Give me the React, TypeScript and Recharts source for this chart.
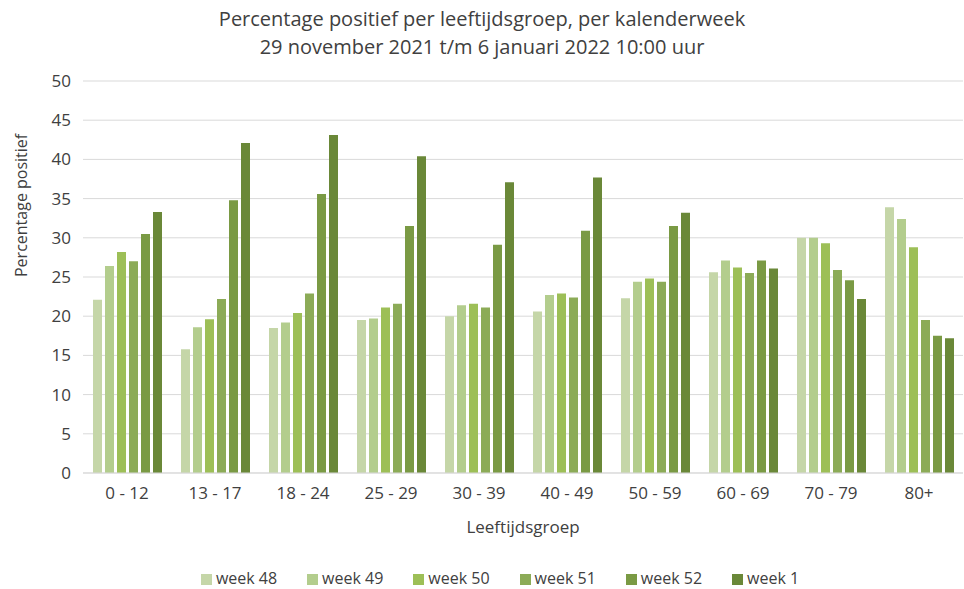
import React from 'react';
import { BarChart, Bar, XAxis, YAxis, CartesianGrid, Legend } from 'recharts';

const ageGroups = ['0 - 12', '13 - 17', '18 - 24', '25 - 29', '30 - 39', '40 - 49', '50 - 59', '60 - 69', '70 - 79', '80+'];

const week48 = [22.1, 15.8, 18.5, 19.5, 20.0, 20.6, 22.3, 25.6, 30.0, 33.9];
const week49 = [26.4, 18.6, 19.2, 19.7, 21.4, 22.7, 24.4, 27.1, 30.0, 32.4];
const week50 = [28.2, 19.6, 20.4, 21.1, 21.6, 22.9, 24.8, 26.2, 29.3, 28.8];
const week51 = [27.0, 22.2, 22.9, 21.6, 21.1, 22.4, 24.4, 25.5, 25.9, 19.5];
const week52 = [30.5, 34.8, 35.6, 31.5, 29.1, 30.9, 31.5, 27.1, 24.6, 17.5];
const week1 = [33.3, 42.1, 43.1, 40.4, 37.1, 37.7, 33.2, 26.1, 22.2, 17.2];

const yTicks = [0, 5, 10, 15, 20, 25, 30, 35, 40, 45, 50];

const series = [
  { key: 'w48', name: 'week 48', values: week48, color: '#c5d6a8' },
  { key: 'w49', name: 'week 49', values: week49, color: '#b3cd8d' },
  { key: 'w50', name: 'week 50', values: week50, color: '#9dbf57' },
  { key: 'w51', name: 'week 51', values: week51, color: '#8cab57' },
  { key: 'w52', name: 'week 52', values: week52, color: '#7a9a44' },
  { key: 'w1', name: 'week 1', values: week1, color: '#6a8838' },
];

const data = ageGroups.map((g, i) => {
  const row: Record<string, string | number> = { group: g };
  series.forEach((s) => { row[s.key] = s.values[i]; });
  return row;
});

const FONT = '"Open Sans", sans-serif';
const TEXT = '#404040';

// keep the legend in series order
const legendOrder = (item: any) => series.findIndex((s) => s.key === item.dataKey);

export default function App() {
  return (
    <div style={{ position: 'absolute', left: 0, top: 0, width: 964, height: 589, background: '#fff', fontFamily: FONT }}>
      <div style={{ position: 'absolute', left: 0, top: 5, width: 964, textAlign: 'center', fontSize: 20, lineHeight: '28px', color: TEXT }}>
        <div>Percentage positief per leeftijdsgroep, per kalenderweek</div>
        <div>29 november 2021 t/m 6 januari 2022 10:00 uur</div>
      </div>
      <BarChart
        width={964}
        height={589}
        data={data}
        margin={{ top: 81, right: 1, bottom: 32, left: 5 }}
        barCategoryGap={10}
        barGap={3}
      >
        <CartesianGrid vertical={false} stroke="#d9d9d9" />
        <XAxis
          dataKey="group"
          tickLine={false}
          tickSize={0}
          tickMargin={14}
          axisLine={{ stroke: '#d9d9d9' }}
          tick={{ fill: TEXT, fontSize: 17, fontFamily: FONT }}
          height={62}
          label={{ value: 'Leeftijdsgroep', position: 'insideBottom', offset: 2, fill: TEXT, fontSize: 17, fontFamily: FONT }}
        />
        <YAxis
          domain={[0, 50]}
          ticks={yTicks}
          interval={0}
          width={78}
          tickLine={false}
          tickSize={0}
          tickMargin={12}
          axisLine={false}
          tick={{ fill: TEXT, fontSize: 17, fontFamily: FONT }}
          label={{ value: 'Percentage positief', angle: -90, position: 'insideLeft', offset: 16, fill: TEXT, fontSize: 16, fontFamily: FONT }}
        />
        <Legend
          verticalAlign="bottom"
          iconType="square"
          iconSize={11}
          itemSorter={legendOrder}
          wrapperStyle={{ bottom: 0, paddingLeft: 62, boxSizing: 'border-box', fontSize: 16, fontFamily: FONT, color: TEXT }}
          formatter={(v) => <span style={{ color: TEXT, marginRight: 20 }}>{v}</span>}
        />
        {series.map((s) => (
          <Bar key={s.key} dataKey={s.key} name={s.name} fill={s.color} isAnimationActive={false} />
        ))}
      </BarChart>
    </div>
  );
}
